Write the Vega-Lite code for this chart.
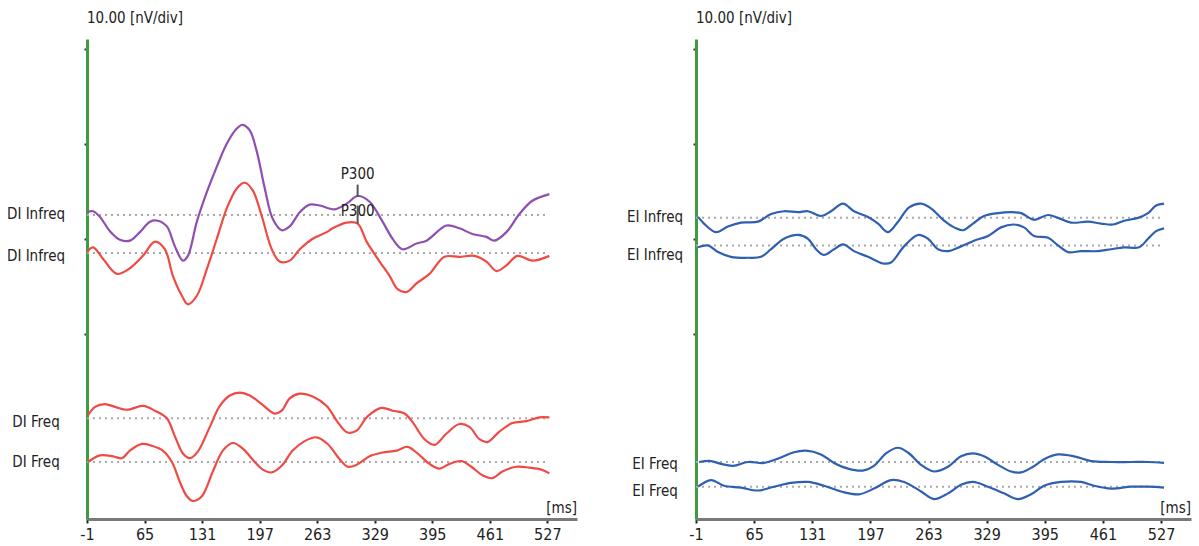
{
"$schema": "https://vega.github.io/schema/vega-lite/v6.json",
"background": "white",
"padding": {"left": 6, "top": 11, "right": 5, "bottom": 5},
"spacing": 49,
"config": {"view": {"stroke": null}, "font": "Liberation Sans Narrow, DejaVu Sans Condensed, Roboto, sans-serif"},
"datasets": {
"curves": [
{"p":"DI","s":"DI Infreq 1","t":-1,"v":32.8},{"p":"DI","s":"DI Infreq 1","t":5.9,"v":32.9},{"p":"DI","s":"DI Infreq 1","t":13.9,"v":32.3},{"p":"DI","s":"DI Infreq 1","t":25.3,"v":30.8},{"p":"DI","s":"DI Infreq 1","t":36.8,"v":29.9},{"p":"DI","s":"DI Infreq 1","t":48.2,"v":29.8},{"p":"DI","s":"DI Infreq 1","t":59.7,"v":30.7},{"p":"DI","s":"DI Infreq 1","t":71.2,"v":31.8},{"p":"DI","s":"DI Infreq 1","t":80.3,"v":31.9},{"p":"DI","s":"DI Infreq 1","t":90.6,"v":31.3},{"p":"DI","s":"DI Infreq 1","t":99.8,"v":29.2},{"p":"DI","s":"DI Infreq 1","t":109.0,"v":27.7},{"p":"DI","s":"DI Infreq 1","t":114.7,"v":28.2},{"p":"DI","s":"DI Infreq 1","t":125.0,"v":31.8},{"p":"DI","s":"DI Infreq 1","t":136.4,"v":34.9},{"p":"DI","s":"DI Infreq 1","t":147.9,"v":37.6},{"p":"DI","s":"DI Infreq 1","t":159.3,"v":40.0},{"p":"DI","s":"DI Infreq 1","t":170.8,"v":41.6},{"p":"DI","s":"DI Infreq 1","t":177.7,"v":42.0},{"p":"DI","s":"DI Infreq 1","t":185.7,"v":41.4},{"p":"DI","s":"DI Infreq 1","t":193.7,"v":39.2},{"p":"DI","s":"DI Infreq 1","t":202.9,"v":35.3},{"p":"DI","s":"DI Infreq 1","t":212.0,"v":32.1},{"p":"DI","s":"DI Infreq 1","t":222.3,"v":30.9},{"p":"DI","s":"DI Infreq 1","t":231.5,"v":31.3},{"p":"DI","s":"DI Infreq 1","t":243.0,"v":32.8},{"p":"DI","s":"DI Infreq 1","t":254.4,"v":33.6},{"p":"DI","s":"DI Infreq 1","t":265.9,"v":33.5},{"p":"DI","s":"DI Infreq 1","t":283.0,"v":33.1},{"p":"DI","s":"DI Infreq 1","t":296.8,"v":33.7},{"p":"DI","s":"DI Infreq 1","t":309.4,"v":34.5},{"p":"DI","s":"DI Infreq 1","t":323.1,"v":33.9},{"p":"DI","s":"DI Infreq 1","t":338.0,"v":31.8},{"p":"DI","s":"DI Infreq 1","t":349.5,"v":30.0},{"p":"DI","s":"DI Infreq 1","t":360.9,"v":28.9},{"p":"DI","s":"DI Infreq 1","t":376.9,"v":29.5},{"p":"DI","s":"DI Infreq 1","t":388.4,"v":29.8},{"p":"DI","s":"DI Infreq 1","t":411.3,"v":31.4},{"p":"DI","s":"DI Infreq 1","t":426.2,"v":31.1},{"p":"DI","s":"DI Infreq 1","t":441.1,"v":30.5},{"p":"DI","s":"DI Infreq 1","t":457.1,"v":30.2},{"p":"DI","s":"DI Infreq 1","t":466.3,"v":29.8},{"p":"DI","s":"DI Infreq 1","t":480.0,"v":30.7},{"p":"DI","s":"DI Infreq 1","t":494.9,"v":32.6},{"p":"DI","s":"DI Infreq 1","t":509.8,"v":34.0},{"p":"DI","s":"DI Infreq 1","t":529.3,"v":34.7},
{"p":"DI","s":"DI Infreq 2","t":-1,"v":28.6},{"p":"DI","s":"DI Infreq 2","t":5.9,"v":29.1},{"p":"DI","s":"DI Infreq 2","t":17.3,"v":27.9},{"p":"DI","s":"DI Infreq 2","t":33.4,"v":26.3},{"p":"DI","s":"DI Infreq 2","t":48.2,"v":26.9},{"p":"DI","s":"DI Infreq 2","t":63.1,"v":28.2},{"p":"DI","s":"DI Infreq 2","t":76.9,"v":29.7},{"p":"DI","s":"DI Infreq 2","t":88.3,"v":28.9},{"p":"DI","s":"DI Infreq 2","t":97.5,"v":26.1},{"p":"DI","s":"DI Infreq 2","t":107.8,"v":24.0},{"p":"DI","s":"DI Infreq 2","t":114.7,"v":23.1},{"p":"DI","s":"DI Infreq 2","t":125.0,"v":24.0},{"p":"DI","s":"DI Infreq 2","t":136.4,"v":26.8},{"p":"DI","s":"DI Infreq 2","t":147.9,"v":30.0},{"p":"DI","s":"DI Infreq 2","t":159.3,"v":33.2},{"p":"DI","s":"DI Infreq 2","t":170.8,"v":35.3},{"p":"DI","s":"DI Infreq 2","t":180.0,"v":35.9},{"p":"DI","s":"DI Infreq 2","t":189.1,"v":35.1},{"p":"DI","s":"DI Infreq 2","t":199.4,"v":32.4},{"p":"DI","s":"DI Infreq 2","t":210.9,"v":28.9},{"p":"DI","s":"DI Infreq 2","t":220.0,"v":27.6},{"p":"DI","s":"DI Infreq 2","t":231.5,"v":27.7},{"p":"DI","s":"DI Infreq 2","t":243.0,"v":28.9},{"p":"DI","s":"DI Infreq 2","t":257.8,"v":30.0},{"p":"DI","s":"DI Infreq 2","t":273.9,"v":30.7},{"p":"DI","s":"DI Infreq 2","t":280.7,"v":31.1},{"p":"DI","s":"DI Infreq 2","t":296.8,"v":31.7},{"p":"DI","s":"DI Infreq 2","t":309.4,"v":31.6},{"p":"DI","s":"DI Infreq 2","t":319.7,"v":29.7},{"p":"DI","s":"DI Infreq 2","t":334.6,"v":27.6},{"p":"DI","s":"DI Infreq 2","t":346.0,"v":26.1},{"p":"DI","s":"DI Infreq 2","t":355.2,"v":24.7},{"p":"DI","s":"DI Infreq 2","t":365.5,"v":24.4},{"p":"DI","s":"DI Infreq 2","t":376.9,"v":25.3},{"p":"DI","s":"DI Infreq 2","t":391.8,"v":26.3},{"p":"DI","s":"DI Infreq 2","t":409.0,"v":28.1},{"p":"DI","s":"DI Infreq 2","t":426.2,"v":28.1},{"p":"DI","s":"DI Infreq 2","t":443.4,"v":28.2},{"p":"DI","s":"DI Infreq 2","t":457.1,"v":27.6},{"p":"DI","s":"DI Infreq 2","t":468.6,"v":26.6},{"p":"DI","s":"DI Infreq 2","t":480.0,"v":27.2},{"p":"DI","s":"DI Infreq 2","t":492.6,"v":28.2},{"p":"DI","s":"DI Infreq 2","t":509.8,"v":27.7},{"p":"DI","s":"DI Infreq 2","t":529.3,"v":28.2},
{"p":"DI","s":"DI Freq 1","t":0.1,"v":11.4},{"p":"DI","s":"DI Freq 1","t":8.2,"v":12.3},{"p":"DI","s":"DI Freq 1","t":19.6,"v":12.6},{"p":"DI","s":"DI Freq 1","t":31.1,"v":12.3},{"p":"DI","s":"DI Freq 1","t":44.8,"v":12.0},{"p":"DI","s":"DI Freq 1","t":63.1,"v":12.4},{"p":"DI","s":"DI Freq 1","t":76.9,"v":11.9},{"p":"DI","s":"DI Freq 1","t":90.6,"v":11.1},{"p":"DI","s":"DI Freq 1","t":99.8,"v":9.2},{"p":"DI","s":"DI Freq 1","t":109.0,"v":7.4},{"p":"DI","s":"DI Freq 1","t":117.0,"v":6.9},{"p":"DI","s":"DI Freq 1","t":126.1,"v":7.6},{"p":"DI","s":"DI Freq 1","t":139.9,"v":10.2},{"p":"DI","s":"DI Freq 1","t":151.3,"v":12.4},{"p":"DI","s":"DI Freq 1","t":162.8,"v":13.5},{"p":"DI","s":"DI Freq 1","t":174.2,"v":13.8},{"p":"DI","s":"DI Freq 1","t":185.7,"v":13.5},{"p":"DI","s":"DI Freq 1","t":199.4,"v":12.6},{"p":"DI","s":"DI Freq 1","t":214.3,"v":11.6},{"p":"DI","s":"DI Freq 1","t":222.3,"v":11.9},{"p":"DI","s":"DI Freq 1","t":231.5,"v":13.2},{"p":"DI","s":"DI Freq 1","t":243.0,"v":13.7},{"p":"DI","s":"DI Freq 1","t":257.8,"v":13.4},{"p":"DI","s":"DI Freq 1","t":273.9,"v":12.4},{"p":"DI","s":"DI Freq 1","t":286.5,"v":10.7},{"p":"DI","s":"DI Freq 1","t":297.9,"v":9.6},{"p":"DI","s":"DI Freq 1","t":308.2,"v":9.8},{"p":"DI","s":"DI Freq 1","t":320.8,"v":11.3},{"p":"DI","s":"DI Freq 1","t":336.9,"v":12.2},{"p":"DI","s":"DI Freq 1","t":349.5,"v":11.9},{"p":"DI","s":"DI Freq 1","t":363.2,"v":11.6},{"p":"DI","s":"DI Freq 1","t":372.4,"v":10.7},{"p":"DI","s":"DI Freq 1","t":386.1,"v":8.9},{"p":"DI","s":"DI Freq 1","t":397.6,"v":8.3},{"p":"DI","s":"DI Freq 1","t":411.3,"v":9.5},{"p":"DI","s":"DI Freq 1","t":426.2,"v":10.5},{"p":"DI","s":"DI Freq 1","t":437.6,"v":10.2},{"p":"DI","s":"DI Freq 1","t":449.1,"v":8.9},{"p":"DI","s":"DI Freq 1","t":458.3,"v":8.6},{"p":"DI","s":"DI Freq 1","t":472.0,"v":9.7},{"p":"DI","s":"DI Freq 1","t":486.9,"v":10.6},{"p":"DI","s":"DI Freq 1","t":502.9,"v":10.8},{"p":"DI","s":"DI Freq 1","t":517.8,"v":11.2},{"p":"DI","s":"DI Freq 1","t":529.3,"v":11.2},
{"p":"DI","s":"DI Freq 2","t":0.1,"v":6.5},{"p":"DI","s":"DI Freq 2","t":13.9,"v":7.2},{"p":"DI","s":"DI Freq 2","t":28.8,"v":7.1},{"p":"DI","s":"DI Freq 2","t":39.1,"v":6.9},{"p":"DI","s":"DI Freq 2","t":48.2,"v":7.7},{"p":"DI","s":"DI Freq 2","t":62.0,"v":8.4},{"p":"DI","s":"DI Freq 2","t":73.4,"v":8.2},{"p":"DI","s":"DI Freq 2","t":86.0,"v":7.7},{"p":"DI","s":"DI Freq 2","t":96.4,"v":6.5},{"p":"DI","s":"DI Freq 2","t":105.5,"v":4.4},{"p":"DI","s":"DI Freq 2","t":113.5,"v":2.9},{"p":"DI","s":"DI Freq 2","t":120.4,"v":2.4},{"p":"DI","s":"DI Freq 2","t":130.7,"v":2.9},{"p":"DI","s":"DI Freq 2","t":143.3,"v":5.5},{"p":"DI","s":"DI Freq 2","t":154.8,"v":7.7},{"p":"DI","s":"DI Freq 2","t":166.2,"v":8.5},{"p":"DI","s":"DI Freq 2","t":177.7,"v":7.9},{"p":"DI","s":"DI Freq 2","t":191.4,"v":6.5},{"p":"DI","s":"DI Freq 2","t":200.6,"v":5.7},{"p":"DI","s":"DI Freq 2","t":210.9,"v":5.4},{"p":"DI","s":"DI Freq 2","t":222.3,"v":6.1},{"p":"DI","s":"DI Freq 2","t":234.9,"v":7.7},{"p":"DI","s":"DI Freq 2","t":248.7,"v":8.7},{"p":"DI","s":"DI Freq 2","t":262.4,"v":9.1},{"p":"DI","s":"DI Freq 2","t":275.0,"v":8.4},{"p":"DI","s":"DI Freq 2","t":288.8,"v":6.8},{"p":"DI","s":"DI Freq 2","t":297.9,"v":6.0},{"p":"DI","s":"DI Freq 2","t":308.2,"v":6.2},{"p":"DI","s":"DI Freq 2","t":323.1,"v":7.1},{"p":"DI","s":"DI Freq 2","t":338.0,"v":7.5},{"p":"DI","s":"DI Freq 2","t":354.0,"v":7.7},{"p":"DI","s":"DI Freq 2","t":366.6,"v":8.1},{"p":"DI","s":"DI Freq 2","t":378.1,"v":7.4},{"p":"DI","s":"DI Freq 2","t":391.8,"v":6.3},{"p":"DI","s":"DI Freq 2","t":403.3,"v":5.8},{"p":"DI","s":"DI Freq 2","t":414.7,"v":6.3},{"p":"DI","s":"DI Freq 2","t":428.5,"v":6.6},{"p":"DI","s":"DI Freq 2","t":439.9,"v":6.0},{"p":"DI","s":"DI Freq 2","t":452.5,"v":5.1},{"p":"DI","s":"DI Freq 2","t":464.0,"v":4.8},{"p":"DI","s":"DI Freq 2","t":475.4,"v":5.5},{"p":"DI","s":"DI Freq 2","t":491.5,"v":6.0},{"p":"DI","s":"DI Freq 2","t":506.4,"v":5.9},{"p":"DI","s":"DI Freq 2","t":520.1,"v":5.7},{"p":"DI","s":"DI Freq 2","t":529.3,"v":5.3},
{"p":"EI","s":"EI Infreq 1","t":1.3,"v":32.3},{"p":"EI","s":"EI Infreq 1","t":8.1,"v":31.6},{"p":"EI","s":"EI Infreq 1","t":21.7,"v":30.7},{"p":"EI","s":"EI Infreq 1","t":35.3,"v":31.3},{"p":"EI","s":"EI Infreq 1","t":50.1,"v":31.7},{"p":"EI","s":"EI Infreq 1","t":69.4,"v":31.8},{"p":"EI","s":"EI Infreq 1","t":84.2,"v":32.6},{"p":"EI","s":"EI Infreq 1","t":98.9,"v":32.9},{"p":"EI","s":"EI Infreq 1","t":114.8,"v":32.8},{"p":"EI","s":"EI Infreq 1","t":126.2,"v":32.9},{"p":"EI","s":"EI Infreq 1","t":140.9,"v":32.4},{"p":"EI","s":"EI Infreq 1","t":152.3,"v":32.9},{"p":"EI","s":"EI Infreq 1","t":165.9,"v":33.7},{"p":"EI","s":"EI Infreq 1","t":178.4,"v":32.9},{"p":"EI","s":"EI Infreq 1","t":194.3,"v":32.3},{"p":"EI","s":"EI Infreq 1","t":205.7,"v":31.6},{"p":"EI","s":"EI Infreq 1","t":217.0,"v":30.7},{"p":"EI","s":"EI Infreq 1","t":228.4,"v":31.8},{"p":"EI","s":"EI Infreq 1","t":240.9,"v":33.3},{"p":"EI","s":"EI Infreq 1","t":254.5,"v":33.7},{"p":"EI","s":"EI Infreq 1","t":265.8,"v":33.2},{"p":"EI","s":"EI Infreq 1","t":280.6,"v":31.9},{"p":"EI","s":"EI Infreq 1","t":292.0,"v":31.2},{"p":"EI","s":"EI Infreq 1","t":302.2,"v":30.9},{"p":"EI","s":"EI Infreq 1","t":313.5,"v":31.6},{"p":"EI","s":"EI Infreq 1","t":326.0,"v":32.4},{"p":"EI","s":"EI Infreq 1","t":341.9,"v":32.7},{"p":"EI","s":"EI Infreq 1","t":356.7,"v":32.8},{"p":"EI","s":"EI Infreq 1","t":368.0,"v":32.7},{"p":"EI","s":"EI Infreq 1","t":382.8,"v":32.0},{"p":"EI","s":"EI Infreq 1","t":398.7,"v":32.5},{"p":"EI","s":"EI Infreq 1","t":410.1,"v":32.2},{"p":"EI","s":"EI Infreq 1","t":424.8,"v":31.7},{"p":"EI","s":"EI Infreq 1","t":444.1,"v":31.8},{"p":"EI","s":"EI Infreq 1","t":458.9,"v":31.6},{"p":"EI","s":"EI Infreq 1","t":472.5,"v":31.5},{"p":"EI","s":"EI Infreq 1","t":485.0,"v":31.9},{"p":"EI","s":"EI Infreq 1","t":500.9,"v":32.2},{"p":"EI","s":"EI Infreq 1","t":512.2,"v":32.7},{"p":"EI","s":"EI Infreq 1","t":521.3,"v":33.5},{"p":"EI","s":"EI Infreq 1","t":530.4,"v":33.7},
{"p":"EI","s":"EI Infreq 2","t":1.3,"v":29.1},{"p":"EI","s":"EI Infreq 2","t":12.6,"v":29.3},{"p":"EI","s":"EI Infreq 2","t":24.0,"v":28.6},{"p":"EI","s":"EI Infreq 2","t":38.7,"v":28.1},{"p":"EI","s":"EI Infreq 2","t":58.1,"v":28.0},{"p":"EI","s":"EI Infreq 2","t":72.8,"v":28.1},{"p":"EI","s":"EI Infreq 2","t":84.2,"v":28.9},{"p":"EI","s":"EI Infreq 2","t":98.9,"v":30.0},{"p":"EI","s":"EI Infreq 2","t":114.8,"v":30.4},{"p":"EI","s":"EI Infreq 2","t":126.2,"v":30.0},{"p":"EI","s":"EI Infreq 2","t":135.3,"v":28.9},{"p":"EI","s":"EI Infreq 2","t":144.3,"v":28.3},{"p":"EI","s":"EI Infreq 2","t":155.7,"v":28.9},{"p":"EI","s":"EI Infreq 2","t":165.9,"v":29.4},{"p":"EI","s":"EI Infreq 2","t":178.4,"v":28.7},{"p":"EI","s":"EI Infreq 2","t":194.3,"v":28.1},{"p":"EI","s":"EI Infreq 2","t":211.3,"v":27.4},{"p":"EI","s":"EI Infreq 2","t":220.4,"v":27.5},{"p":"EI","s":"EI Infreq 2","t":235.2,"v":29.2},{"p":"EI","s":"EI Infreq 2","t":251.1,"v":30.4},{"p":"EI","s":"EI Infreq 2","t":262.4,"v":30.0},{"p":"EI","s":"EI Infreq 2","t":273.8,"v":28.9},{"p":"EI","s":"EI Infreq 2","t":285.1,"v":28.7},{"p":"EI","s":"EI Infreq 2","t":299.9,"v":29.2},{"p":"EI","s":"EI Infreq 2","t":314.7,"v":29.8},{"p":"EI","s":"EI Infreq 2","t":330.6,"v":30.3},{"p":"EI","s":"EI Infreq 2","t":345.3,"v":31.2},{"p":"EI","s":"EI Infreq 2","t":360.1,"v":31.5},{"p":"EI","s":"EI Infreq 2","t":371.4,"v":31.2},{"p":"EI","s":"EI Infreq 2","t":382.8,"v":30.3},{"p":"EI","s":"EI Infreq 2","t":398.7,"v":30.1},{"p":"EI","s":"EI Infreq 2","t":410.1,"v":29.3},{"p":"EI","s":"EI Infreq 2","t":421.4,"v":28.6},{"p":"EI","s":"EI Infreq 2","t":436.2,"v":28.7},{"p":"EI","s":"EI Infreq 2","t":455.5,"v":28.7},{"p":"EI","s":"EI Infreq 2","t":470.2,"v":28.9},{"p":"EI","s":"EI Infreq 2","t":485.0,"v":29.1},{"p":"EI","s":"EI Infreq 2","t":502.0,"v":29.1},{"p":"EI","s":"EI Infreq 2","t":512.2,"v":30.0},{"p":"EI","s":"EI Infreq 2","t":521.3,"v":30.8},{"p":"EI","s":"EI Infreq 2","t":530.4,"v":31.1},
{"p":"EI","s":"EI Freq 1","t":2.4,"v":6.5},{"p":"EI","s":"EI Freq 1","t":16.0,"v":6.6},{"p":"EI","s":"EI Freq 1","t":27.4,"v":6.3},{"p":"EI","s":"EI Freq 1","t":41.0,"v":6.1},{"p":"EI","s":"EI Freq 1","t":58.1,"v":6.5},{"p":"EI","s":"EI Freq 1","t":76.2,"v":6.4},{"p":"EI","s":"EI Freq 1","t":93.2,"v":6.9},{"p":"EI","s":"EI Freq 1","t":109.1,"v":7.5},{"p":"EI","s":"EI Freq 1","t":123.9,"v":7.7},{"p":"EI","s":"EI Freq 1","t":140.9,"v":7.3},{"p":"EI","s":"EI Freq 1","t":155.7,"v":6.4},{"p":"EI","s":"EI Freq 1","t":171.6,"v":5.8},{"p":"EI","s":"EI Freq 1","t":188.6,"v":5.6},{"p":"EI","s":"EI Freq 1","t":201.1,"v":6.1},{"p":"EI","s":"EI Freq 1","t":214.7,"v":7.4},{"p":"EI","s":"EI Freq 1","t":228.4,"v":8.0},{"p":"EI","s":"EI Freq 1","t":239.7,"v":7.5},{"p":"EI","s":"EI Freq 1","t":254.5,"v":6.2},{"p":"EI","s":"EI Freq 1","t":269.2,"v":5.5},{"p":"EI","s":"EI Freq 1","t":285.1,"v":6.0},{"p":"EI","s":"EI Freq 1","t":299.9,"v":7.1},{"p":"EI","s":"EI Freq 1","t":313.5,"v":7.4},{"p":"EI","s":"EI Freq 1","t":326.0,"v":7.1},{"p":"EI","s":"EI Freq 1","t":341.9,"v":6.2},{"p":"EI","s":"EI Freq 1","t":356.7,"v":5.5},{"p":"EI","s":"EI Freq 1","t":368.0,"v":5.4},{"p":"EI","s":"EI Freq 1","t":381.6,"v":6.0},{"p":"EI","s":"EI Freq 1","t":394.2,"v":6.8},{"p":"EI","s":"EI Freq 1","t":410.1,"v":7.3},{"p":"EI","s":"EI Freq 1","t":428.2,"v":7.1},{"p":"EI","s":"EI Freq 1","t":447.5,"v":6.6},{"p":"EI","s":"EI Freq 1","t":470.2,"v":6.5},{"p":"EI","s":"EI Freq 1","t":492.9,"v":6.5},{"p":"EI","s":"EI Freq 1","t":512.2,"v":6.5},{"p":"EI","s":"EI Freq 1","t":530.4,"v":6.4},
{"p":"EI","s":"EI Freq 2","t":1.3,"v":3.9},{"p":"EI","s":"EI Freq 2","t":16.0,"v":4.6},{"p":"EI","s":"EI Freq 2","t":30.8,"v":4.0},{"p":"EI","s":"EI Freq 2","t":50.1,"v":3.8},{"p":"EI","s":"EI Freq 2","t":69.4,"v":3.5},{"p":"EI","s":"EI Freq 2","t":87.6,"v":3.9},{"p":"EI","s":"EI Freq 2","t":106.9,"v":4.3},{"p":"EI","s":"EI Freq 2","t":126.2,"v":4.4},{"p":"EI","s":"EI Freq 2","t":144.3,"v":4.0},{"p":"EI","s":"EI Freq 2","t":163.6,"v":3.4},{"p":"EI","s":"EI Freq 2","t":184.1,"v":3.1},{"p":"EI","s":"EI Freq 2","t":201.1,"v":3.7},{"p":"EI","s":"EI Freq 2","t":220.4,"v":4.6},{"p":"EI","s":"EI Freq 2","t":235.2,"v":4.4},{"p":"EI","s":"EI Freq 2","t":254.5,"v":3.4},{"p":"EI","s":"EI Freq 2","t":269.2,"v":2.6},{"p":"EI","s":"EI Freq 2","t":285.1,"v":3.2},{"p":"EI","s":"EI Freq 2","t":299.9,"v":4.1},{"p":"EI","s":"EI Freq 2","t":313.5,"v":4.4},{"p":"EI","s":"EI Freq 2","t":330.6,"v":3.9},{"p":"EI","s":"EI Freq 2","t":348.7,"v":3.2},{"p":"EI","s":"EI Freq 2","t":364.6,"v":2.6},{"p":"EI","s":"EI Freq 2","t":379.4,"v":3.1},{"p":"EI","s":"EI Freq 2","t":394.2,"v":4.0},{"p":"EI","s":"EI Freq 2","t":413.5,"v":4.4},{"p":"EI","s":"EI Freq 2","t":436.2,"v":4.4},{"p":"EI","s":"EI Freq 2","t":450.9,"v":4.0},{"p":"EI","s":"EI Freq 2","t":470.2,"v":3.7},{"p":"EI","s":"EI Freq 2","t":492.9,"v":3.9},{"p":"EI","s":"EI Freq 2","t":512.2,"v":3.9},{"p":"EI","s":"EI Freq 2","t":530.4,"v":3.8}
],
"baselines": [
{"p":"DI","label":"DI Infreq","t0":-1,"t1":529,"v":32.5,"lv":32.6},
{"p":"DI","label":"DI Infreq","t0":-1,"t1":529,"v":28.5,"lv":28.2},
{"p":"DI","label":"DI Freq","t0":-1,"t1":529,"v":11.1,"lv":10.7},
{"p":"DI","label":"DI Freq","t0":-1,"t1":529,"v":6.5,"lv":6.5},
{"p":"EI","label":"EI Infreq","t0":-1,"t1":530,"v":32.2,"lv":32.3},
{"p":"EI","label":"EI Infreq","t0":-1,"t1":530,"v":29.3,"lv":28.3},
{"p":"EI","label":"EI Freq","t0":-1,"t1":530,"v":6.5,"lv":6.3},
{"p":"EI","label":"EI Freq","t0":-1,"t1":530,"v":3.9,"lv":3.5}
],
"markers": [
{"name":"P300","t":309.4,"v1":35.7,"v2":34.4,"lv":36.8},
{"name":"P300","t":309.4,"v1":33.5,"v2":31.6,"lv":32.9}
]
},
"hconcat": [
{
"width": 490, "height": 480,
"title": {"text": "10.00 [nV/div]", "anchor": "start", "frame": "group", "fontSize": 15, "fontWeight": "normal", "color": "#222", "offset": 13},
"layer": [
{"data": {"name": "baselines"}, "transform": [{"filter": "datum.p === 'DI'"}],
 "mark": {"type": "rule", "strokeDash": [2, 4], "strokeWidth": 2, "color": "#aaaaaa"},
 "encoding": {
  "x": {"field": "t0", "type": "quantitative", "scale": {"domain": [-1, 561], "nice": false, "zero": false},
        "axis": {"values": [-1,65,131,197,263,329,395,461,527], "labelExpr": "datum.value === -1 ? '-1' : datum.label", "title": null, "grid": false, "domainColor": "#7a7a7a", "domainWidth": 3, "tickColor": "#222", "tickSize": 4, "tickWidth": 2, "labelFontSize": 16, "labelColor": "#222", "labelPadding": 3, "labelFlush": false}},
  "x2": {"field": "t1"},
  "y": {"field": "v", "type": "quantitative", "scale": {"domain": [0.5, 51.03], "nice": false, "zero": false},
        "axis": {"values": [20,30,40,50], "labels": false, "title": null, "grid": false, "domainColor": "#3f9b3f", "domainWidth": 3, "tickColor": "#333", "tickSize": 3, "tickWidth": 2}}
 }},
{"data": {"name": "baselines"}, "transform": [{"filter": "datum.p === 'DI'"}],
 "mark": {"type": "text", "fontSize": 15, "color": "#222", "align": "center", "baseline": "middle", "dx": -51},
 "encoding": {"x": {"field": "t0", "type": "quantitative"}, "y": {"field": "lv", "type": "quantitative"}, "text": {"field": "label"}}},
{"data": {"name": "curves"}, "transform": [{"filter": "datum.p === 'DI'"}],
 "mark": {"type": "line", "strokeWidth": 2.2, "interpolate": "catmull-rom"},
 "encoding": {
  "x": {"field": "t", "type": "quantitative"},
  "y": {"field": "v", "type": "quantitative"},
  "detail": {"field": "s"},
  "color": {"field": "s", "type": "nominal", "legend": null,
   "scale": {"domain": ["DI Infreq 1","DI Infreq 2","DI Freq 1","DI Freq 2","EI Infreq 1","EI Infreq 2","EI Freq 1","EI Freq 2"],
             "range": ["#8f4fb0","#f04a45","#f04a45","#f04a45","#2f5fb0","#2f5fb0","#2f5fb0","#2f5fb0"]}}
 }},
{"data": {"name": "markers"},
 "mark": {"type": "rule", "strokeWidth": 2, "color": "#555555"},
 "encoding": {"x": {"field": "t", "type": "quantitative"}, "y": {"field": "v1", "type": "quantitative"}, "y2": {"field": "v2"}}},
{"data": {"name": "markers"},
 "mark": {"type": "text", "fontSize": 15, "color": "#222", "align": "center", "baseline": "middle"},
 "encoding": {"x": {"field": "t", "type": "quantitative"}, "y": {"field": "lv", "type": "quantitative"}, "text": {"field": "name"}}},
{"data": {"values": [{"u": "[ms]"}]},
 "mark": {"type": "text", "fontSize": 15, "color": "#222", "align": "right", "baseline": "bottom", "dy": -3},
 "encoding": {"x": {"datum": 561}, "y": {"datum": 0.5}, "text": {"field": "u"}}}
]
},
{
"width": 495, "height": 480,
"title": {"text": "10.00 [nV/div]", "anchor": "start", "frame": "group", "fontSize": 15, "fontWeight": "normal", "color": "#222", "offset": 13},
"layer": [
{"data": {"name": "baselines"}, "transform": [{"filter": "datum.p === 'EI'"}],
 "mark": {"type": "rule", "strokeDash": [2, 4], "strokeWidth": 2, "color": "#aaaaaa"},
 "encoding": {
  "x": {"field": "t0", "type": "quantitative", "scale": {"domain": [-1, 561], "nice": false, "zero": false},
        "axis": {"values": [-1,65,131,197,263,329,395,461,527], "labelExpr": "datum.value === -1 ? '-1' : datum.label", "title": null, "grid": false, "domainColor": "#7a7a7a", "domainWidth": 3, "tickColor": "#222", "tickSize": 4, "tickWidth": 2, "labelFontSize": 16, "labelColor": "#222", "labelPadding": 3, "labelFlush": false}},
  "x2": {"field": "t1"},
  "y": {"field": "v", "type": "quantitative", "scale": {"domain": [0.5, 51.03], "nice": false, "zero": false},
        "axis": {"values": [20,30,40,50], "labels": false, "title": null, "grid": false, "domainColor": "#3f9b3f", "domainWidth": 3, "tickColor": "#333", "tickSize": 3, "tickWidth": 2}}
 }},
{"data": {"name": "baselines"}, "transform": [{"filter": "datum.p === 'EI'"}],
 "mark": {"type": "text", "fontSize": 15, "color": "#222", "align": "center", "baseline": "middle", "dx": -41},
 "encoding": {"x": {"field": "t0", "type": "quantitative"}, "y": {"field": "lv", "type": "quantitative"}, "text": {"field": "label"}}},
{"data": {"name": "curves"}, "transform": [{"filter": "datum.p === 'EI'"}],
 "mark": {"type": "line", "strokeWidth": 2.2, "interpolate": "catmull-rom"},
 "encoding": {
  "x": {"field": "t", "type": "quantitative"},
  "y": {"field": "v", "type": "quantitative"},
  "detail": {"field": "s"},
  "color": {"field": "s", "type": "nominal", "legend": null,
   "scale": {"domain": ["DI Infreq 1","DI Infreq 2","DI Freq 1","DI Freq 2","EI Infreq 1","EI Infreq 2","EI Freq 1","EI Freq 2"],
             "range": ["#8f4fb0","#f04a45","#f04a45","#f04a45","#2f5fb0","#2f5fb0","#2f5fb0","#2f5fb0"]}}
 }},
{"data": {"values": [{"u": "[ms]"}]},
 "mark": {"type": "text", "fontSize": 15, "color": "#222", "align": "right", "baseline": "bottom", "dy": -3},
 "encoding": {"x": {"datum": 561}, "y": {"datum": 0.5}, "text": {"field": "u"}}}
]
}
]
}
